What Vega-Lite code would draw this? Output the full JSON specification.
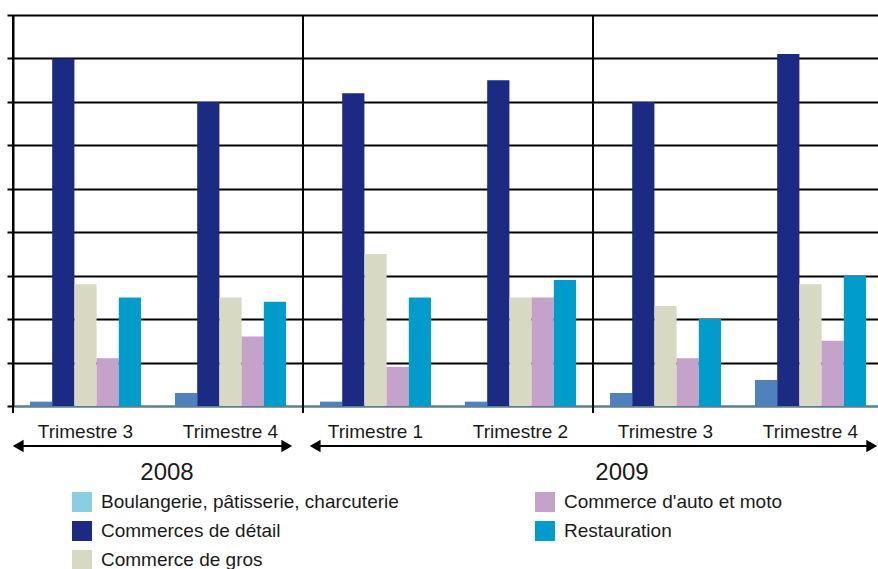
{
  "$schema": "https://vega.github.io/schema/vega-lite/v6.json",
  "autosize": {"type": "none"},
  "padding": {"left": 13, "top": 15, "right": 0, "bottom": 163},
  "width": 865,
  "height": 391,
  "config": {
    "font": "Liberation Sans",
    "view": {"stroke": null},
    "background": "white"
  },
  "resolve": {"scale": {"x": "independent"}},
  "layer": [
    {
      "data": {
        "values": [
          {"q": "2008-T3", "s": "Boulangerie, pâtisserie, charcuterie", "v": 0.1},
          {"q": "2008-T3", "s": "Commerces de détail", "v": 8.0},
          {"q": "2008-T3", "s": "Commerce de gros", "v": 2.8},
          {"q": "2008-T3", "s": "Commerce d'auto et moto", "v": 1.1},
          {"q": "2008-T3", "s": "Restauration", "v": 2.5},
          {"q": "2008-T4", "s": "Boulangerie, pâtisserie, charcuterie", "v": 0.3},
          {"q": "2008-T4", "s": "Commerces de détail", "v": 7.0},
          {"q": "2008-T4", "s": "Commerce de gros", "v": 2.5},
          {"q": "2008-T4", "s": "Commerce d'auto et moto", "v": 1.6},
          {"q": "2008-T4", "s": "Restauration", "v": 2.4},
          {"q": "2009-T1", "s": "Boulangerie, pâtisserie, charcuterie", "v": 0.1},
          {"q": "2009-T1", "s": "Commerces de détail", "v": 7.2},
          {"q": "2009-T1", "s": "Commerce de gros", "v": 3.5},
          {"q": "2009-T1", "s": "Commerce d'auto et moto", "v": 0.9},
          {"q": "2009-T1", "s": "Restauration", "v": 2.5},
          {"q": "2009-T2", "s": "Boulangerie, pâtisserie, charcuterie", "v": 0.1},
          {"q": "2009-T2", "s": "Commerces de détail", "v": 7.5},
          {"q": "2009-T2", "s": "Commerce de gros", "v": 2.5},
          {"q": "2009-T2", "s": "Commerce d'auto et moto", "v": 2.5},
          {"q": "2009-T2", "s": "Restauration", "v": 2.9},
          {"q": "2009-T3", "s": "Boulangerie, pâtisserie, charcuterie", "v": 0.3},
          {"q": "2009-T3", "s": "Commerces de détail", "v": 7.0},
          {"q": "2009-T3", "s": "Commerce de gros", "v": 2.3},
          {"q": "2009-T3", "s": "Commerce d'auto et moto", "v": 1.1},
          {"q": "2009-T3", "s": "Restauration", "v": 2.0},
          {"q": "2009-T4", "s": "Boulangerie, pâtisserie, charcuterie", "v": 0.6},
          {"q": "2009-T4", "s": "Commerces de détail", "v": 8.1},
          {"q": "2009-T4", "s": "Commerce de gros", "v": 2.8},
          {"q": "2009-T4", "s": "Commerce d'auto et moto", "v": 1.5},
          {"q": "2009-T4", "s": "Restauration", "v": 3.0}
        ]
      },
      "layer": [
        {
          "mark": {"type": "bar"},
          "encoding": {
            "x": {
              "field": "q",
              "type": "nominal",
              "sort": null,
              "scale": {"range": [0, 870], "paddingInner": 0, "paddingOuter": 0},
              "axis": {
                "title": null,
                "labelAngle": 0,
                "labelExpr": "'Trimestre ' + substring(datum.label, 6)",
                "labelFontSize": 19,
                "labelColor": "#1a1a1a",
                "labelBaseline": "alphabetic",
                "labelPadding": 31,
                "ticks": false,
                "tickSize": 0,
                "domain": true,
                "domainColor": "#5f7f8e",
                "domainWidth": 2,
                "grid": false
              }
            },
            "xOffset": {
              "field": "s",
              "type": "nominal",
              "scale": {
                "domain": ["Boulangerie, pâtisserie, charcuterie", "Commerces de détail", "Commerce de gros", "Commerce d'auto et moto", "Restauration"],
                "paddingInner": 0,
                "paddingOuter": 0.766
              }
            },
            "y": {
              "field": "v",
              "type": "quantitative",
              "scale": {"domain": [0, 9], "nice": false, "zero": true},
              "axis": {
                "title": null,
                "values": [0, 1, 2, 3, 4, 5, 6, 7, 8, 9],
                "labels": false,
                "grid": true,
                "gridColor": {"condition": {"test": "datum.value === 0", "value": "#5f7f8e"}, "value": "#000000"},
                "gridWidth": 2,
                "ticks": true,
                "tickSize": 6,
                "tickWidth": 2,
                "tickColor": "#000000",
                "domain": true,
                "domainColor": "#000000",
                "domainWidth": 2
              }
            },
            "color": {
              "field": "s",
              "type": "nominal",
              "scale": {
                "domain": ["Restauration", "Commerce d'auto et moto", "Commerce de gros", "Commerces de détail", "Boulangerie, pâtisserie, charcuterie"],
                "range": ["#009dcc", "#c4a2ca", "#d7d9c2", "#1b2a83", "#4f81bd"]
              },
              "legend": null
            }
          }
        },
        {
          "mark": {"type": "square", "opacity": 0, "filled": true},
          "encoding": {
            "x": {"field": "q", "type": "nominal", "sort": null},
            "y": {"field": "v", "type": "quantitative"},
            "fill": {
              "field": "s",
              "type": "nominal",
              "scale": {
                "domain": ["Boulangerie, pâtisserie, charcuterie", "Commerces de détail", "Commerce de gros", "Commerce d'auto et moto", "Restauration"],
                "range": ["#89cfe3", "#1b2a83", "#d7d9c2", "#c4a2ca", "#009dcc"]
              },
              "legend": {
                "title": null,
                "orient": "none",
                "legendX": 59,
                "legendY": 477,
                "columns": 2,
                "columnPadding": 136,
                "rowPadding": 9,
                "padding": 0,
                "symbolType": "square",
                "symbolSize": 400,
                "symbolStrokeWidth": 0,
                "symbolOpacity": 1,
                "labelFontSize": 19,
                "labelOffset": 9,
                "labelColor": "#1a1a1a",
                "labelLimit": 0
              }
            }
          }
        }
      ]
    },
    {
      "data": {"values": [{}]},
      "layer": [
        {
          "mark": {"type": "rule", "color": "#000000", "strokeWidth": 2},
          "encoding": {
            "x": {"datum": 0, "type": "quantitative", "scale": {"domain": [0, 6], "range": [0, 870], "nice": false, "zero": false}, "axis": null},
            "y": {"datum": -0.16, "type": "quantitative"},
            "y2": {"datum": 9}
          }
        },
        {
          "mark": {"type": "rule", "color": "#000000", "strokeWidth": 2},
          "encoding": {
            "x": {"datum": 2, "type": "quantitative"},
            "y": {"datum": -0.16, "type": "quantitative"},
            "y2": {"datum": 9}
          }
        },
        {
          "mark": {"type": "rule", "color": "#000000", "strokeWidth": 2},
          "encoding": {
            "x": {"datum": 4, "type": "quantitative"},
            "y": {"datum": -0.16, "type": "quantitative"},
            "y2": {"datum": 9}
          }
        },
        {
          "mark": {"type": "rule", "color": "#000000", "strokeWidth": 2},
          "encoding": {
            "x": {"datum": 0.02, "type": "quantitative"},
            "x2": {"datum": 1.9},
            "y": {"datum": -0.92, "type": "quantitative"}
          }
        },
        {
          "mark": {"type": "rule", "color": "#000000", "strokeWidth": 2},
          "encoding": {
            "x": {"datum": 2.07, "type": "quantitative"},
            "x2": {"datum": 5.94},
            "y": {"datum": -0.92, "type": "quantitative"}
          }
        },
        {
          "mark": {"type": "point", "shape": "triangle-left", "filled": true, "color": "#000000", "size": 156, "opacity": 1},
          "encoding": {
            "x": {"datum": 0.036, "type": "quantitative"},
            "y": {"datum": -0.92, "type": "quantitative"}
          }
        },
        {
          "mark": {"type": "point", "shape": "triangle-right", "filled": true, "color": "#000000", "size": 156, "opacity": 1},
          "encoding": {
            "x": {"datum": 1.888, "type": "quantitative"},
            "y": {"datum": -0.92, "type": "quantitative"}
          }
        },
        {
          "mark": {"type": "point", "shape": "triangle-left", "filled": true, "color": "#000000", "size": 156, "opacity": 1},
          "encoding": {
            "x": {"datum": 2.084, "type": "quantitative"},
            "y": {"datum": -0.92, "type": "quantitative"}
          }
        },
        {
          "mark": {"type": "point", "shape": "triangle-right", "filled": true, "color": "#000000", "size": 156, "opacity": 1},
          "encoding": {
            "x": {"datum": 5.922, "type": "quantitative"},
            "y": {"datum": -0.92, "type": "quantitative"}
          }
        },
        {
          "mark": {"type": "text", "fontSize": 24, "align": "center", "baseline": "alphabetic", "color": "#1a1a1a"},
          "encoding": {
            "x": {"datum": 1.062, "type": "quantitative"},
            "y": {"datum": -1.703, "type": "quantitative"},
            "text": {"value": "2008"}
          }
        },
        {
          "mark": {"type": "text", "fontSize": 24, "align": "center", "baseline": "alphabetic", "color": "#1a1a1a"},
          "encoding": {
            "x": {"datum": 4.2, "type": "quantitative"},
            "y": {"datum": -1.703, "type": "quantitative"},
            "text": {"value": "2009"}
          }
        }
      ]
    }
  ]
}
